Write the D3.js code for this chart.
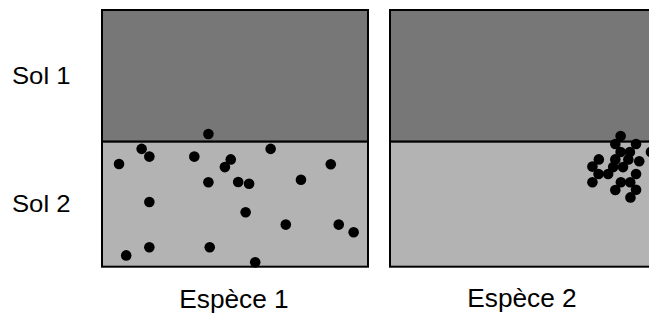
<!DOCTYPE html>
<html>
<head>
<meta charset="utf-8">
<script src="https://cdn.jsdelivr.net/npm/d3@7"></script>
<style>
  body { margin: 0; background: #fff; }
  text { font-family: "Liberation Sans", Arial, sans-serif; }
</style>
</head>
<body>
<svg id="chart"></svg>
<script>
let width = 649;
let height = 314;

// categories
let species = ["Espèce 1", "Espèce 2"];
let soils = ["Sol 1", "Sol 2"];
// depth (0 = top, 100 = bottom) where Sol 1 ends and Sol 2 begins
let soilLimit = 51.3;

// positions des individus (x: 0-100 across panel, y: depth 0-100)
let sp1X = [40.0, 14.9, 17.8, 6.4, 34.7, 48.4, 46.2, 63.4, 86.0, 40.0, 51.2,
  55.3, 74.8, 17.8, 54.0, 69.1, 89.0, 94.6, 17.8, 40.5, 9.1, 57.6];
let sp1Y = [48.3, 54.1, 57.1, 60.0, 57.1, 58.2, 61.2, 54.1, 60.1, 67.1, 67.0,
  67.7, 66.1, 74.8, 78.8, 83.6, 83.6, 86.6, 92.4, 92.4, 95.6, 98.3];
let sp2X = [86.7, 84.7, 92.5, 86.7, 90.2, 98.1, 78.5, 84.7, 89.6, 93.7, 76.1,
  83.9, 87.6, 78.4, 82.0, 92.5, 76.1, 86.8, 90.3, 84.7, 92.5, 90.4];
let sp2Y = [49.1, 52.2, 52.2, 55.3, 55.3, 55.3, 58.2, 58.2, 58.2, 58.9, 61.0,
  61.2, 61.2, 63.9, 63.9, 63.9, 67.1, 67.1, 67.1, 70.1, 70.0, 73.0];

let xs = [sp1X, sp2X];
let ys = [sp1Y, sp2Y];

let svg = d3.select("#chart").attr("width", width).attr("height", height);

let panelW = 266;
let panelTop = 10, panelBottom = 266.7;

// position of each panel
let px = d3.scaleOrdinal().domain(species).range([102, 390]);
let y = d3.scaleLinear().domain([0, 100]).range([panelTop, panelBottom]);

species.forEach((s, i) => {
  let x = d3.scaleLinear().domain([0, 100]).range([px(s), px(s) + panelW]);
  let g = svg.append("g").attr("class", "panel");

  // two soil layers
  let layers = [[0, soilLimit, "#777777"], [soilLimit, 100, "#b3b3b3"]];
  g.selectAll("rect.layer")
    .data(layers)
    .enter().append("rect")
    .attr("class", "layer")
    .attr("x", x(0))
    .attr("y", d => y(d[0]))
    .attr("width", x(100) - x(0))
    .attr("height", d => y(d[1]) - y(d[0]))
    .attr("fill", d => d[2])
    .attr("stroke", "#000")
    .attr("stroke-width", 2);

  let pts = xs[i].map((v, j) => ({ x: v, y: ys[i][j] }));
  g.selectAll("circle")
    .data(pts)
    .enter().append("circle")
    .attr("cx", d => x(d.x))
    .attr("cy", d => y(d.y))
    .attr("r", 5.3)
    .attr("fill", "#000");

  // species name, slightly widened like the original
  let cx = x(50) - 1;
  g.append("text")
    .attr("transform", `translate(${cx},${i == 0 ? 307.5 : 306.5}) scale(1.05,1)`)
    .attr("text-anchor", "middle")
    .attr("font-size", 25)
    .text(s);
});

// soil labels
let soilMid = [soilLimit / 2, (soilLimit + 100) / 2];
svg.selectAll("text.soil")
  .data(soils)
  .enter().append("text")
  .attr("class", "soil")
  .attr("transform", (d, i) => `translate(12,${y(soilMid[i]) + 8}) scale(1.07,1)`)
  .attr("font-size", 24)
  .text(d => d);
</script>
</body>
</html>
